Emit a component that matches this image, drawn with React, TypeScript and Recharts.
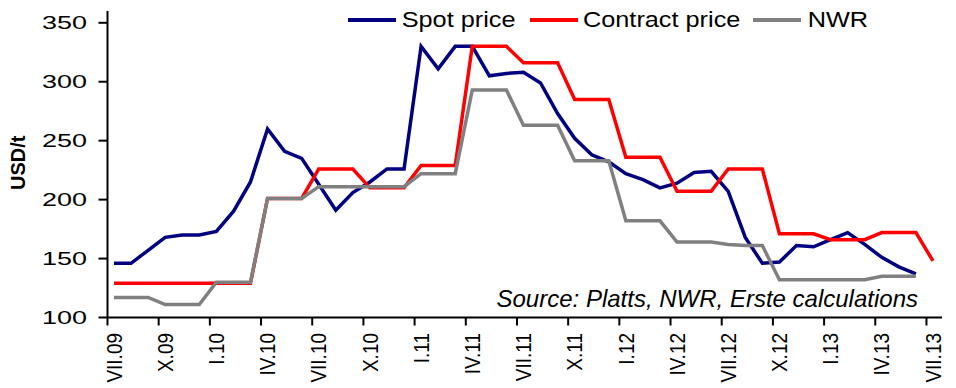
import React from 'react';
import { LineChart, Line, XAxis, YAxis, Legend } from 'recharts';

const FONT = '"Liberation Sans", Arial, Helvetica, sans-serif';

// Monthly periods, VII.09 .. VII.13
const periods = [
  'VII.09', 'VIII.09', 'IX.09', 'X.09', 'XI.09', 'XII.09',
  'I.10', 'II.10', 'III.10', 'IV.10', 'V.10', 'VI.10', 'VII.10', 'VIII.10', 'IX.10', 'X.10', 'XI.10', 'XII.10',
  'I.11', 'II.11', 'III.11', 'IV.11', 'V.11', 'VI.11', 'VII.11', 'VIII.11', 'IX.11', 'X.11', 'XI.11', 'XII.11',
  'I.12', 'II.12', 'III.12', 'IV.12', 'V.12', 'VI.12', 'VII.12', 'VIII.12', 'IX.12', 'X.12', 'XI.12', 'XII.12',
  'I.13', 'II.13', 'III.13', 'IV.13', 'V.13', 'VI.13', 'VII.13',
];

// USD/t
const spotPrice = [
  146, 146, 157, 168, 170, 170, 173, 190, 215, 260, 241, 235,
  213, 191, 206, 215, 226, 226, 330, 311, 330, 330, 305, 307,
  308, 299, 273, 252, 238, 232, 222, 217, 210, 214, 223, 224,
  207, 168, 146, 147, 161, 160, 166, 172, 162, 151, 143, 137, null,
];

const contractPrice = [
  129, 129, 129, 129, 129, 129, 129, 129, 129, 201, 201, 201,
  226, 226, 226, 210, 210, 210, 229, 229, 229, 330, 330, 330,
  316, 316, 316, 285, 285, 285, 236, 236, 236, 207, 207, 207,
  226, 226, 226, 171, 171, 171, 166, 166, 166, 172, 172, 172, 148,
];

const nwrPrice = [
  117, 117, 117, 111, 111, 111, 130, 130, 130, 201, 201, 201,
  211, 211, 211, 211, 211, 211, 222, 222, 222, 293, 293, 293,
  263, 263, 263, 233, 233, 233, 182, 182, 182, 164, 164, 164,
  162, 161, 161, 132, 132, 132, 132, 132, 132, 135, 135, 135, null,
];

const yTicks = [100, 150, 200, 250, 300, 350];
const xTicks = [0, 3, 6, 9, 12, 15, 18, 21, 24, 27, 30, 33, 36, 39, 42, 45, 48];

const series = [
  { key: 'spot', name: 'Spot price', color: '#000080' },
  { key: 'contract', name: 'Contract price', color: '#ff0000' },
  { key: 'nwr', name: 'NWR', color: '#808080' },
];

const data = periods.map((p, i) => ({
  i,
  period: p,
  spot: spotPrice[i],
  contract: contractPrice[i],
  nwr: nwrPrice[i],
}));

const XTick = (props: any) => {
  const { x, y, payload } = props;
  return (
    <g transform={`translate(${x},${y})`}>
      <line x1={-6.5} x2={-6.5} y1={-15.5} y2={-7.5} stroke="#000" strokeWidth={2} />
      <text
        transform="rotate(-90) scale(1,1.12)"
        textAnchor="end"
        dy="0.36em"
        fontSize={19}
        fontFamily={FONT}
        fill="#000"
      >
        {periods[payload.value]}
      </text>
    </g>
  );
};

const YTick = (props: any) => {
  const { x, y, payload } = props;
  return (
    <text
      transform={`translate(${x},${y}) scale(1.45,1)`}
      textAnchor="end"
      dy="0.36em"
      fontSize={18.6}
      fontFamily={FONT}
      fill="#000"
    >
      {payload.value}
    </text>
  );
};

const YLabel = (props: any) => {
  const vb = props.viewBox || { x: 0, y: 0, height: 0 };
  const cx = vb.x + 17.5;
  const cy = vb.y + vb.height / 2 - 1.5;
  return (
    <text
      transform={`translate(${cx},${cy}) rotate(-90)`}
      textAnchor="middle"
      dy="0.36em"
      fontSize={20}
      fontWeight="bold"
      fontFamily={FONT}
      fill="#000"
    >
      USD/t
    </text>
  );
};

const legendLayout = [
  { lineX: 8, textX: 61.7 },
  { lineX: 190, textX: 243 },
  { lineX: 413, textX: 467.7 },
];

const LegendContent = () => (
  <svg width={560} height={34} style={{ display: 'block', overflow: 'visible' }}>
    {series.map((s, k) => (
      <g key={s.key}>
        <line
          x1={legendLayout[k].lineX}
          x2={legendLayout[k].lineX + 48}
          y1={16}
          y2={16}
          stroke={s.color}
          strokeWidth={4}
        />
        <text
          transform={`translate(${legendLayout[k].textX},23.3) scale(1.15,1)`}
          fontSize={22}
          fontFamily={FONT}
          fill="#000"
        >
          {s.name}
        </text>
      </g>
    ))}
  </svg>
);

export default function App() {
  return (
    <>
      <style>{'body{margin:0;background:#fff;}'}</style>
      <LineChart
        width={956}
        height={388}
        data={data}
        margin={{ top: 11, right: 14, bottom: 0, left: 0 }}
      >
        <XAxis
          type="number"
          dataKey="i"
          domain={[-0.38, 48.53]}
          ticks={xTicks}
          interval={0}
          tick={<XTick />}
          tickLine={false}
          tickSize={8}
          tickMargin={7.5}
          height={70.5}
          axisLine={{ stroke: '#000', strokeWidth: 2 }}
        />
        <YAxis
          type="number"
          domain={[100, 360]}
          ticks={yTicks}
          interval={0}
          tick={<YTick />}
          tickSize={9}
          tickMargin={11.5}
          width={107.5}
          axisLine={{ stroke: '#000', strokeWidth: 2 }}
          tickLine={{ stroke: '#000', strokeWidth: 2 }}
          label={<YLabel />}
        />
        <Legend
          layout="horizontal"
          verticalAlign="middle"
          align="center"
          wrapperStyle={{ top: 4, left: 340, width: 560, height: 34 }}
          content={<LegendContent />}
        />
        {series.map((s) => (
          <Line
            key={s.key}
            type="linear"
            dataKey={s.key}
            name={s.name}
            stroke={s.color}
            strokeWidth={3.5}
            dot={false}
            activeDot={false}
            isAnimationActive={false}
          />
        ))}
        <text
          x={918}
          y={306.5}
          textAnchor="end"
          fontSize={24}
          fontStyle="italic"
          fontFamily={FONT}
          fill="#000"
        >
          Source: Platts, NWR, Erste calculations
        </text>
      </LineChart>
    </>
  );
}
